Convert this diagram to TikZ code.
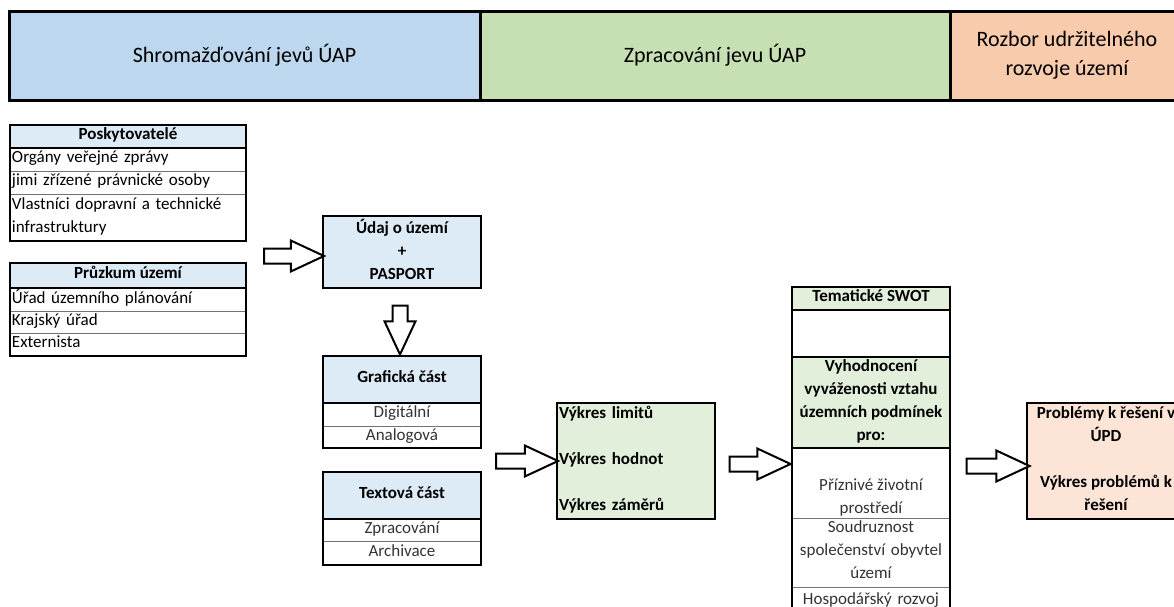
\documentclass[tikz,border=0pt]{standalone}
\usepackage{fontspec}
\setmainfont{Carlito}
\usetikzlibrary{shapes.arrows}
\definecolor{hblue}{HTML}{BDD7EE}
\definecolor{hgreen}{HTML}{C6E0B4}
\definecolor{horange}{HTML}{F8CBAD}
\definecolor{lblue}{HTML}{DDEBF7}
\definecolor{lgreen}{HTML}{E2EFDA}
\definecolor{lorange}{HTML}{FCE4D6}
\newcommand\bodyfs{\fontsize{17}{23}\selectfont}
\newcommand\headfs{\fontsize{22}{29}\selectfont}
\newcommand\lstrut{\rule[-5.5pt]{0pt}{17.5pt}}
\newcommand\hstrut{\rule[-7pt]{0pt}{22pt}}
\begin{document}
\begin{tikzpicture}[x=1pt,y=-1pt,
 every node/.style={inner sep=0pt, outer sep=0pt},
 band/.style={draw=black, line width=3pt, font=\headfs, align=center, anchor=north west, minimum height=89, text=black, execute at begin node=\hstrut, execute at end node=\hstrut},
 hcell/.style={draw=black, line width=2.5pt, font=\bodyfs\bfseries, align=center, anchor=north west, minimum width=158, execute at begin node=\lstrut, execute at end node=\lstrut},
 rowL/.style={draw=black!55, line width=0.8pt, font=\bodyfs, align=left, anchor=north west, inner xsep=2pt, text width=232, execute at begin node=\lstrut, execute at end node=\lstrut},
 rowC/.style={draw=black!55, line width=0.8pt, font=\bodyfs, align=center, anchor=north west, text width=158, text=black!80, execute at begin node=\lstrut, execute at end node=\lstrut},
 celltext/.style={font=\bodyfs, align=center, text=black!80, execute at begin node=\lstrut, execute at end node=\lstrut},
 boxframe/.style={draw=black, line width=2.5pt},
 blockarrow/.style={single arrow, draw=black, line width=2pt, fill=white, minimum height=#1, single arrow head extend=8pt, single arrow tip angle=50, inner sep=6.5pt, single arrow head indent=0pt},
]
\useasboundingbox (0,0) rectangle (1174,607);
\clip (0,0) rectangle (1174,607);

% header bands
\node[band, fill=hblue, minimum width=471] (h1) at (9,12) {Shromažďování jevů ÚAP};
\node[band, fill=hgreen, minimum width=470] (h2) at (480,12) {Zpracování jevu ÚAP};
\node[band, fill=horange, minimum width=234] (h3) at (950,12) {Rozbor udržitelného\\rozvoje území};

% Poskytovatele
\node[rowL, minimum height=23] (pB) at (10,148) {Orgány veřejné zprávy};
\node[rowL, minimum height=23] (pC) at (10,171) {jimi zřízené právnické osoby};
\node[rowL, minimum height=47] (pD) at (10,194) {Vlastníci dopravní a technické\\infrastruktury};
\node[hcell, fill=lblue, minimum width=236, minimum height=23] (pA) at (10,125) {Poskytovatelé};
\draw[boxframe] (pA.north west) rectangle (pD.south east);

% Pruzkum
\node[rowL, minimum height=23] (rB) at (10,288) {Úřad územního plánování};
\node[rowL, minimum height=22] (rC) at (10,311) {Krajský úřad};
\node[rowL, minimum height=23] (rD) at (10,333) {Externista};
\node[hcell, fill=lblue, minimum width=236, minimum height=25] (rA) at (10,263) {Průzkum území};
\draw[boxframe] (rA.north west) rectangle (rD.south east);

% Udaj
\node[hcell, fill=lblue, minimum height=72] (udaj) at (323,216) {Údaj o území\\+\\PASPORT};

% Graficka
\node[rowC, minimum height=23] (gB) at (323,403) {Digitální};
\node[rowC, minimum height=22] (gC) at (323,426) {Analogová};
\node[hcell, fill=lblue, minimum height=47] (gA) at (323,356) {Grafická část};
\draw[boxframe] (gA.north west) rectangle (gC.south east);

% Textova
\node[rowC, minimum height=22] (tB) at (323,519) {Zpracování};
\node[rowC, minimum height=24] (tC) at (323,541) {Archivace};
\node[hcell, fill=lblue, minimum height=47] (tA) at (323,472) {Textová část};
\draw[boxframe] (tA.north west) rectangle (tC.south east);

% Vykresy
\node[hcell, fill=lgreen, minimum height=116, text width=154, inner xsep=2pt, align=left] (vyk) at (557,403) {Výkres limitů\\[23pt]Výkres hodnot\\[23pt]Výkres záměrů};

% SWOT column
\node[rowC, minimum height=70] (s4) at (792,448) {};
\node[celltext, anchor=south] (s4t) at ([yshift=-1pt]s4.south) {Příznivé životní\\prostředí};
\node[rowC, minimum height=69] (s5) at (792,518) {Soudruznost\\společenství obyvtel\\území};
\node[rowC, minimum height=28] (s6) at (792,587) {Hospodářský rozvoj};
\node[hcell, fill=lgreen, minimum height=23] (s1) at (792,287) {Tematické SWOT};
\node[hcell, fill=white, minimum height=47] (s2) at (792,310) {};
\node[hcell, fill=lgreen, minimum height=91] (s3) at (792,357) {Vyhodnocení\\vyváženosti vztahu\\územních podmínek\\pro:};
\draw[boxframe] (s1.north west) rectangle (s6.south east);

% Problemy
\node[hcell, fill=lorange, minimum height=116] (prob) at (1027,403) {Problémy k řešení v\\ÚPD\\[23pt]Výkres problémů k\\řešení};

% block arrows
\node[blockarrow=60] (a1) at (286,256) {};
\node[blockarrow=49, shape border rotate=270] (a2) at (400,322) {};
\node[blockarrow=62] (a3) at (519,461) {};
\node[blockarrow=61] (a4) at (752,464) {};
\node[blockarrow=63] (a5) at (990,466) {};
\end{tikzpicture}
\end{document}
